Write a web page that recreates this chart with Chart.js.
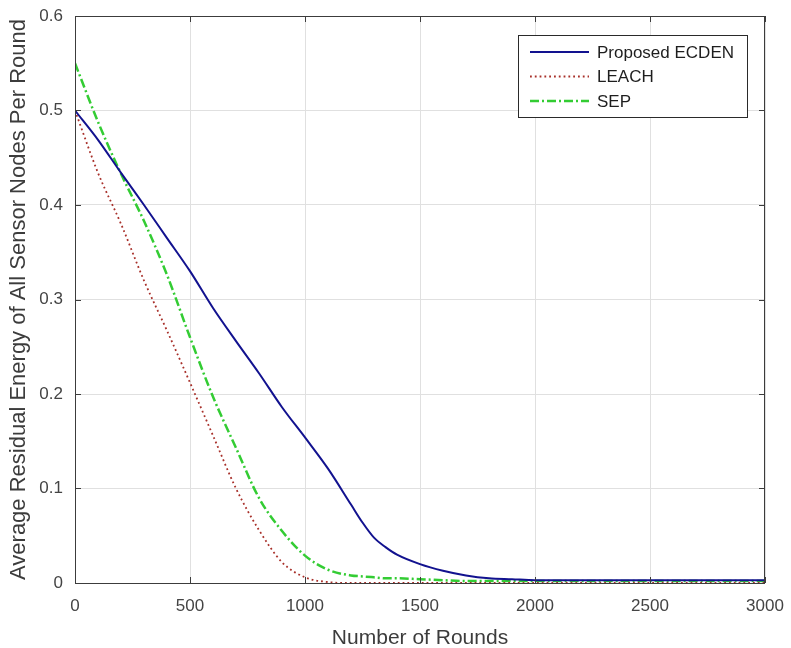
<!DOCTYPE html>
<html>
<head>
<meta charset="utf-8">
<script src="https://cdn.jsdelivr.net/npm/chart.js@4/dist/chart.umd.min.js"></script>
<style>
  html, body { margin: 0; padding: 0; background: #fff; }
</style>
</head>
<body>
<canvas id="energyChart" width="791" height="648"></canvas>
<script>
// rounds (x) and residual energy per series
var rounds = [0, 100, 200, 300, 400, 500, 600, 700, 800, 900, 1000, 1100, 1200, 1250, 1300, 1350, 1400, 1500, 1600, 1700, 1800, 1900, 2000, 2500, 3000];
var ecden  = [0.500, 0.469, 0.434, 0.400, 0.365, 0.330, 0.291, 0.256, 0.222, 0.186, 0.154, 0.121, 0.083, 0.064, 0.048, 0.038, 0.030, 0.020, 0.013, 0.008, 0.005, 0.004, 0.003, 0.003, 0.003];
var leach  = [0.500, 0.434, 0.380, 0.320, 0.267, 0.212, 0.156, 0.100, 0.056, 0.022, 0.006, 0.001, 0.000, 0.000, 0.000, 0.000, 0.000, 0.000, 0.000, 0.000, 0.000, 0.000, 0.000, 0.000, 0.000];
var sep    = [0.550, 0.488, 0.433, 0.383, 0.326, 0.260, 0.197, 0.143, 0.090, 0.055, 0.029, 0.014, 0.008, 0.007, 0.006, 0.005, 0.005, 0.004, 0.003, 0.002, 0.002, 0.002, 0.002, 0.002, 0.002];

var xTicks = [0, 500, 1000, 1500, 2000, 2500, 3000];
var yTicks = [0, 0.1, 0.2, 0.3, 0.4, 0.5, 0.6];

var FONT = "'Liberation Sans', Arial, sans-serif";

function pts(ys) {
  return rounds.map(function (r, i) { return { x: r, y: ys[i] }; });
}

// matlab style box + inward ticks
var boxPlugin = {
  id: 'box',
  afterDatasetsDraw: function (chart) {
    var ctx = chart.ctx, a = chart.chartArea;
    var xs = chart.scales.x, ys = chart.scales.y;
    ctx.save();
    ctx.strokeStyle = '#3c3c3c';
    ctx.lineWidth = 1;
    ctx.strokeRect(a.left + 0.5, a.top + 0.5, a.right - a.left - 1, a.bottom - a.top);
    ctx.beginPath();
    xTicks.forEach(function (v) {
      var px = Math.round(xs.getPixelForValue(v)) + 0.5;
      ctx.moveTo(px, a.bottom); ctx.lineTo(px, a.bottom - 6);
      ctx.moveTo(px, a.top); ctx.lineTo(px, a.top + 6);
    });
    yTicks.forEach(function (v) {
      var py = Math.round(ys.getPixelForValue(v)) + 0.5;
      ctx.moveTo(a.left, py); ctx.lineTo(a.left + 6, py);
      ctx.moveTo(a.right, py); ctx.lineTo(a.right - 6, py);
    });
    ctx.stroke();
    ctx.restore();
  }
};

// legend box in upper right like the matlab one
var legendPlugin = {
  id: 'boxLegend',
  afterDraw: function (chart) {
    var ctx = chart.ctx, a = chart.chartArea;
    var right = a.right - 18, top = a.top + 19;
    var w = 229, h = 82;
    var left = right - w;
    ctx.save();
    ctx.fillStyle = '#fff';
    ctx.fillRect(left, top, w, h);
    ctx.strokeStyle = '#2a2a2a';
    ctx.lineWidth = 1;
    ctx.strokeRect(left + 0.5, top + 0.5, w, h);
    ctx.font = '17px ' + FONT;
    ctx.textBaseline = 'middle';
    chart.data.datasets.forEach(function (ds, i) {
      var y = top + 17 + i * 24.5;
      ctx.beginPath();
      ctx.strokeStyle = ds.borderColor;
      ctx.lineWidth = ds.borderWidth;
      ctx.setLineDash(ds.borderDash || []);
      ctx.moveTo(left + 12, y);
      ctx.lineTo(left + 71, y);
      ctx.stroke();
      ctx.setLineDash([]);
      ctx.fillStyle = '#1e1e1e';
      ctx.fillText(ds.label, left + 79, y + 1);
    });
    ctx.restore();
  }
};

new Chart(document.getElementById('energyChart'), {
  type: 'line',
  data: {
    datasets: [
      { label: 'Proposed ECDEN', data: pts(ecden), borderColor: '#12128f', borderWidth: 2, borderDash: [] },
      { label: 'LEACH', data: pts(leach), borderColor: '#a8302a', borderWidth: 1.8, borderDash: [1.8, 3] },
      { label: 'SEP', data: pts(sep), borderColor: '#33cc33', borderWidth: 2.5, borderDash: [9, 3, 2, 3] }
    ]
  },
  options: {
    responsive: false,
    animation: false,
    layout: { padding: { top: 16, right: 26, bottom: 0, left: 0 } },
    elements: {
      point: { radius: 0 },
      line: { cubicInterpolationMode: 'monotone', fill: false }
    },
    plugins: {
      legend: { display: false },
      tooltip: { enabled: false }
    },
    scales: {
      x: {
        type: 'linear',
        min: 0, max: 3000,
        afterBuildTicks: function (s) { s.ticks = xTicks.map(function (v) { return { value: v }; }); },
        afterFit: function (s) { s.height = 65; s.paddingLeft = 0; s.paddingRight = 0; },
        grid: { color: '#e0e0e0', drawTicks: false },
        border: { display: false },
        ticks: {
          color: '#444', font: { family: FONT, size: 17 }, padding: 13, maxRotation: 0,
          callback: function (v) { return String(v); }
        },
        title: { display: true, text: 'Number of Rounds', color: '#3c3c3c', font: { family: FONT, size: 21 }, padding: { top: 0, bottom: -3 } }
      },
      y: {
        min: 0, max: 0.6,
        afterBuildTicks: function (s) { s.ticks = yTicks.map(function (v) { return { value: v }; }); },
        afterFit: function (s) { s.width = 75; s.paddingTop = 0; s.paddingBottom = 0; },
        grid: { color: '#e0e0e0', drawTicks: false },
        border: { display: false },
        ticks: {
          color: '#444', font: { family: FONT, size: 17 }, padding: 12,
          callback: function (v) { return String(v); }
        },
        title: { display: true, text: 'Average Residual Energy of All Sensor Nodes Per Round', color: '#3c3c3c', font: { family: FONT, size: 22 }, padding: { top: 6, bottom: 0 } }
      }
    }
  },
  plugins: [boxPlugin, legendPlugin]
});
</script>
</body>
</html>
